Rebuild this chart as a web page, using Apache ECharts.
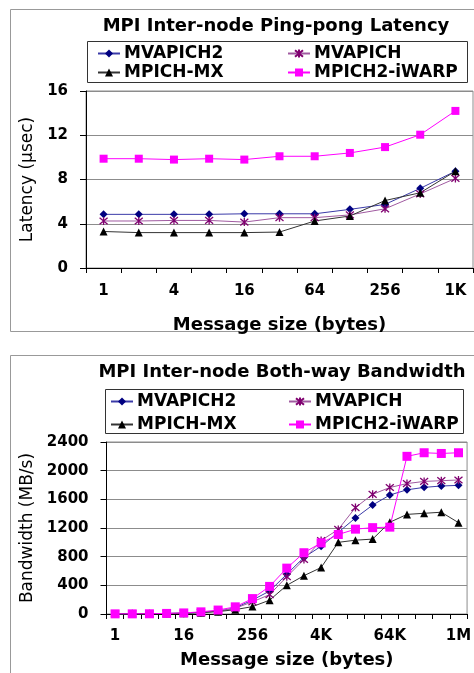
<!DOCTYPE html>
<html>
<head>
<meta charset="utf-8">
<script src="https://cdn.jsdelivr.net/npm/echarts@6/dist/echarts.min.js"></script>
<style>
html,body{margin:0;padding:0;background:#fff;}
#c{width:474px;height:673px;}
</style>
</head>
<body>
<div id="c"></div>
<script>
// ---- Latency chart data ----
var latCats = ['1','2','4','8','16','32','64','128','256','512','1K'];
var latMVAPICH2 = [4.85,4.85,4.85,4.85,4.9,4.9,4.9,5.3,5.75,7.2,8.75];
var latMVAPICH  = [4.25,4.25,4.3,4.3,4.15,4.55,4.55,4.8,5.35,6.7,8.1];
var latMPICHMX  = [3.3,3.2,3.2,3.2,3.2,3.25,4.25,4.7,6.1,6.8,8.75];
var latIWARP    = [9.88,9.88,9.8,9.88,9.8,10.1,10.1,10.4,10.93,12.05,14.2];

// ---- Bandwidth chart data ----
var bwCats = ['1','2','4','8','16','32','64','128','256','512','1K','2K','4K','8K','16K','32K','64K','128K','256K','512K','1M'];
var bwMVAPICH2 = [1,2,4,8,12,22,40,85,195,320,555,790,945,1140,1340,1520,1660,1733,1767,1786,1795];
var bwMVAPICH  = [1,2,4,8,12,22,40,80,170,270,520,760,1025,1180,1485,1670,1765,1820,1850,1860,1870];
var bwMPICHMX  = [1,2,3,6,10,19,33,61,103,193,400,535,648,1000,1030,1045,1280,1390,1405,1420,1275];
var bwIWARP    = [2,2,3,8,15,30,55,100,215,385,640,855,992,1109,1184,1205,1212,2200,2250,2240,2250];

var titles = ['MPI Inter-node Ping-pong Latency', 'MPI Inter-node Both-way Bandwidth'];
var yNames = ['Latency (\u00b5sec)', 'Bandwidth (MB/s)'];
var xName = 'Message size (bytes)';

var FF = 'DejaVu Sans';
var starPath = 'path://M0,0L10,10M10,0L0,10M5,-1L5,11';

var styles = {
  'MVAPICH2':     {symbol:'diamond', size:8, line:'#3a3aa8', mark:'#000080'},
  'MVAPICH':      {symbol:starPath,  size:8, line:'#a05aa0', mark:'#800070'},
  'MPICH-MX':     {symbol:'triangle',size:8, line:'#333333', mark:'#000000'},
  'MPICH2-iWARP': {symbol:'rect',    size:8, line:'#ff00ff', mark:'#ff00ff'}
};

function mkSeries(name, data, idx, sz) {
  var s = styles[name];
  var isStar = s.symbol === starPath;
  return {
    type:'line', name:name, data:data, xAxisIndex:idx, yAxisIndex:idx,
    symbol:s.symbol, symbolSize:sz || s.size, showAllSymbol:true,
    lineStyle:{color:s.line, width:1},
    itemStyle:{color: isStar ? 'transparent' : s.mark, borderColor:s.mark, borderWidth: isStar ? 1.3 : 0},
    emphasis:{disabled:true}, animation:false, z: 3
  };
}

function mkLegend(data, left, top, gap) {
  return {
    data:data, orient:'vertical', left:left, top:top, padding:0, itemGap:gap,
    itemWidth:22, itemHeight:10,
    textStyle:{fontFamily:FF, fontWeight:'bold', fontSize:17, color:'#000', padding:[0,0,0,-1]},
    selectedMode:false
  };
}

var axisLabelStyle = {fontFamily:FF, fontWeight:'bold', fontSize:15, color:'#000'};
function plainNum(v){ return String(v); }

var option = {
  animation:false,
  title:[
    {text:titles[0], left:276, top:17, textAlign:'center', padding:0,
     textStyle:{fontFamily:FF, fontWeight:'bold', fontSize:18, color:'#000'}},
    {text:titles[1], left:282, top:363, textAlign:'center', padding:0,
     textStyle:{fontFamily:FF, fontWeight:'bold', fontSize:18, color:'#000'}}
  ],
  legend:[
    mkLegend(['MVAPICH2','MPICH-MX'], 97, 45, 2),
    mkLegend(['MVAPICH','MPICH2-iWARP'], 287, 45, 2),
    mkLegend(['MVAPICH2','MPICH-MX'], 110, 393, 6),
    mkLegend(['MVAPICH','MPICH2-iWARP'], 288, 393, 6)
  ],
  grid:[
    {left:86, top:91, width:387, height:177, show:true, borderColor:'#8c8c8c', borderWidth:1, backgroundColor:'transparent'},
    {left:106.5, top:442, width:367.5, height:172, show:true, borderColor:'#8c8c8c', borderWidth:1, backgroundColor:'transparent'}
  ],
  xAxis:[
    {type:'category', gridIndex:0, data:latCats, boundaryGap:true,
     axisLine:{lineStyle:{color:'#000', width:1}},
     axisTick:{show:true, interval:0, length:5, lineStyle:{color:'#000'}},
     axisLabel:Object.assign({interval:1, margin:16}, axisLabelStyle),
     name:xName, nameLocation:'middle', nameGap:48,
     nameTextStyle:{fontFamily:FF, fontWeight:'bold', fontSize:18, color:'#000'},
     splitLine:{show:false}},
    {type:'category', gridIndex:1, data:bwCats, boundaryGap:true,
     axisLine:{lineStyle:{color:'#000', width:1}},
     axisTick:{show:true, interval:0, length:5, lineStyle:{color:'#000'}},
     axisLabel:Object.assign({interval:3, margin:15}, axisLabelStyle),
     name:xName, nameLocation:'middle', nameGap:37,
     nameTextStyle:{fontFamily:FF, fontWeight:'bold', fontSize:18, color:'#000'},
     splitLine:{show:false}}
  ],
  yAxis:[
    {type:'value', gridIndex:0, min:0, max:16, interval:4,
     axisLine:{show:true, lineStyle:{color:'#000', width:1}},
     axisTick:{show:true, length:6, lineStyle:{color:'#000'}},
     axisLabel:Object.assign({margin:18, formatter:plainNum}, axisLabelStyle),
     splitLine:{show:true, lineStyle:{color:'#8c8c8c', width:1}},
     name:yNames[0], nameLocation:'middle', nameGap:36,
     nameTextStyle:{fontFamily:FF, fontWeight:'normal', fontSize:17, color:'#000'}},
    {type:'value', gridIndex:1, min:0, max:2400, interval:400,
     axisLine:{show:true, lineStyle:{color:'#000', width:1}},
     axisTick:{show:true, length:6, lineStyle:{color:'#000'}},
     axisLabel:Object.assign({margin:18, formatter:plainNum}, axisLabelStyle),
     splitLine:{show:true, lineStyle:{color:'#8c8c8c', width:1}},
     name:yNames[1], nameLocation:'middle', nameGap:51,
     nameTextStyle:{fontFamily:FF, fontWeight:'normal', fontSize:17, color:'#000'}}
  ],
  graphic:[
    {type:'rect', shape:{x:10.5, y:9.5, width:480, height:322}, style:{fill:'none', stroke:'#999', lineWidth:1}, silent:true, z:-1},
    {type:'rect', shape:{x:10.5, y:355.5, width:480, height:340}, style:{fill:'none', stroke:'#999', lineWidth:1}, silent:true, z:-1},
    {type:'rect', shape:{x:87.5, y:41.5, width:380, height:41}, style:{fill:'none', stroke:'#333', lineWidth:1}, silent:true, z:-1},
    {type:'rect', shape:{x:105.5, y:389.5, width:358, height:44}, style:{fill:'none', stroke:'#333', lineWidth:1}, silent:true, z:-1}
  ],
  series:[
    mkSeries('MVAPICH2', latMVAPICH2, 0),
    mkSeries('MVAPICH', latMVAPICH, 0),
    mkSeries('MPICH-MX', latMPICHMX, 0),
    mkSeries('MPICH2-iWARP', latIWARP, 0),
    mkSeries('MVAPICH2', bwMVAPICH2, 1),
    mkSeries('MVAPICH', bwMVAPICH, 1),
    mkSeries('MPICH-MX', bwMPICHMX, 1),
    mkSeries('MPICH2-iWARP', bwIWARP, 1, 9)
  ]
};

var chart = echarts.init(document.getElementById('c'), null, {renderer:'canvas'});
chart.setOption(option);
</script>
</body>
</html>
